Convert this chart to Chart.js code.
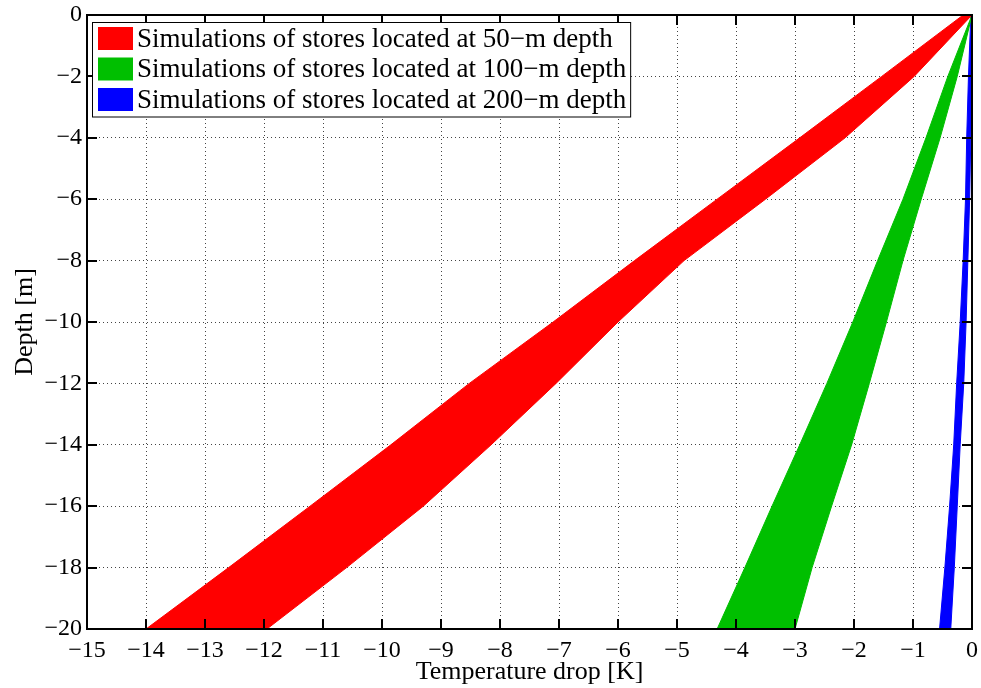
<!DOCTYPE html>
<html>
<head>
<meta charset="utf-8">
<title>Temperature drop vs depth</title>
<script src="https://cdn.jsdelivr.net/npm/chart.js@4.4.1/dist/chart.umd.min.js"></script>
<style>
  html, body { margin: 0; padding: 0; background: #fff; }
  #wrap { width: 981px; height: 688px; }
</style>
</head>
<body>
<div id="wrap"><canvas id="myChart" width="981" height="688"></canvas></div>
<script>
// depth levels (m) where the envelope edges are sampled
const depths = [0, -2, -4, -6, -8, -10, -12, -14, -16, -18, -20];

// envelope edges, temperature drop in K (left = colder edge, right = warmer edge)
const store50Left = [-0.15, -1.53, -2.92, -4.32, -5.72, -7.10, -8.52, -9.85, -11.22, -12.60, -14.00];
const store50Right = [0, -0.98, -2.15, -3.50, -4.88, -6.00, -7.05, -8.15, -9.30, -10.60, -11.95];
const store100Left = [0, -0.41, -0.78, -1.17, -1.60, -2.02, -2.46, -2.92, -3.39, -3.85, -4.32];
const store100Right = [0, -0.25, -0.54, -0.86, -1.17, -1.45, -1.74, -2.04, -2.38, -2.71, -3.00];
const store200Left = [-0.02, -0.06, -0.09, -0.11, -0.15, -0.20, -0.26, -0.31, -0.38, -0.46, -0.55];
const store200Right = [0, 0, -0.02, -0.04, -0.07, -0.10, -0.14, -0.20, -0.25, -0.30, -0.36];

const seriesLabels = [
  "Simulations of stores located at 50\u2212m depth",
  "Simulations of stores located at 100\u2212m depth",
  "Simulations of stores located at 200\u2212m depth"
];
const seriesColors = ["#ff0000", "#00bf00", "#0000ff"];

const xRange = [-15, 0];
const yRange = [-20, 0];

const SERIF = '"Liberation Serif", "Times New Roman", serif';

// closed outline: left edge from the bottom up, then right edge back down
function band(left, right) {
  const pts = [];
  for (let i = depths.length - 1; i >= 0; i--) pts.push({ x: left[i], y: depths[i] });
  for (let i = 0; i < depths.length; i++) pts.push({ x: right[i], y: depths[i] });
  return pts;
}

function minusLabel(v) {
  return v < 0 ? "\u2212" + Math.abs(v) : String(v);
}

const bands = [
  band(store50Left, store50Right),
  band(store100Left, store100Right),
  band(store200Left, store200Right)
];

// box frame with inward tick marks on all four sides
const frameTicks = {
  id: "frameTicks",
  afterDatasetsDraw(chart) {
    const { ctx, chartArea: a, scales: { x, y } } = chart;
    ctx.save();
    ctx.strokeStyle = "#000";
    ctx.lineWidth = 2;
    ctx.beginPath();
    x.ticks.forEach(t => {
      const px = Math.round(x.getPixelForValue(t.value));
      ctx.moveTo(px, a.bottom); ctx.lineTo(px, a.bottom - 10);
      ctx.moveTo(px, a.top); ctx.lineTo(px, a.top + 10);
    });
    y.ticks.forEach(t => {
      const py = Math.round(y.getPixelForValue(t.value));
      ctx.moveTo(a.left, py); ctx.lineTo(a.left + 10, py);
      ctx.moveTo(a.right, py); ctx.lineTo(a.right - 10, py);
    });
    ctx.stroke();
    ctx.strokeRect(a.left, a.top, a.right - a.left, a.bottom - a.top);
    ctx.restore();
  }
};

// boxed legend in the upper left corner of the plot
const boxLegend = {
  id: "boxLegend",
  afterDraw(chart) {
    const { ctx, chartArea: a } = chart;
    const sets = chart.data.datasets;
    ctx.save();
    ctx.font = "27px " + SERIF;
    const textW = Math.max(...sets.map(d => ctx.measureText(d.label).width));
    const left = a.left + 5, top = a.top + 7, rowH = 30.5;
    const w = 45 + textW + 4, h = sets.length * rowH + 3;
    ctx.fillStyle = "#fff";
    ctx.fillRect(left, top, w, h);
    ctx.strokeStyle = "#000";
    ctx.lineWidth = 1;
    ctx.strokeRect(left + 0.5, top + 0.5, w, h);
    sets.forEach((d, i) => {
      const cy = top + 16.5 + i * rowH;
      ctx.fillStyle = d.backgroundColor;
      ctx.fillRect(left + 6, cy - 11.5, 35, 23);
      ctx.fillStyle = "#000";
      ctx.textBaseline = "middle";
      ctx.textAlign = "left";
      ctx.fillText(d.label, left + 45, cy + 1);
    });
    ctx.restore();
  }
};

Chart.defaults.font.family = SERIF;
Chart.defaults.color = "#000";

const chart = new Chart(document.getElementById("myChart"), {
  type: "line",
  data: {
    datasets: bands.map((pts, i) => ({
      label: seriesLabels[i],
      data: pts,
      backgroundColor: seriesColors[i],
      borderColor: seriesColors[i],
      borderWidth: 1,
      pointRadius: 0,
      tension: 0,
      fill: "shape"
    }))
  },
  options: {
    responsive: false,
    animation: false,
    devicePixelRatio: 1,
    layout: { padding: { top: 15, right: 9, left: 0, bottom: 0 } },
    plugins: {
      legend: { display: false },
      tooltip: { enabled: false }
    },
    scales: {
      x: {
        type: "linear",
        position: "bottom",
        min: xRange[0],
        max: xRange[1],
        afterFit: s => {
          s.height = 59;
          s.paddingLeft = 0;
          s.paddingRight = 0;
        },
        ticks: {
          stepSize: 1,
          padding: 7,
          maxRotation: 0,
          autoSkip: false,
          font: { size: 24 },
          callback: minusLabel
        },
        grid: { color: "#444", lineWidth: 1, drawTicks: false },
        border: { display: false, dash: [1, 3] },
        title: {
          display: true,
          text: "Temperature drop [K]",
          font: { size: 26 },
          padding: { top: 0, bottom: 0 }
        }
      },
      y: {
        type: "linear",
        min: yRange[0],
        max: yRange[1],
        afterFit: s => {
          s.width = 87;
          s.paddingTop = 0;
          s.paddingBottom = 0;
        },
        ticks: {
          stepSize: 2,
          padding: 5,
          autoSkip: false,
          font: { size: 24 },
          callback: minusLabel
        },
        grid: { color: "#444", lineWidth: 1, drawTicks: false },
        border: { display: false, dash: [1, 3] },
        title: {
          display: true,
          text: "Depth [m]",
          font: { size: 26 },
          padding: { top: 10, bottom: 0 }
        }
      }
    }
  },
  plugins: [frameTicks, boxLegend]
});
</script>
</body>
</html>
